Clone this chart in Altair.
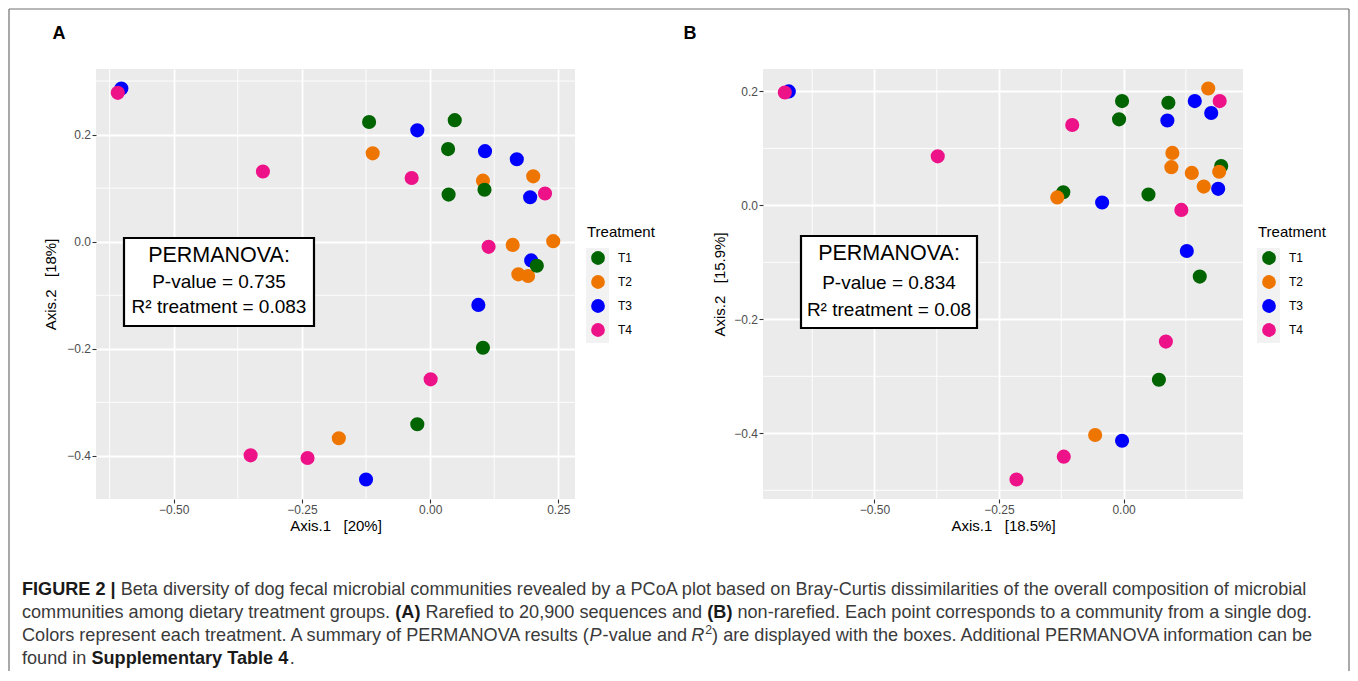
import altair as alt
import pandas as pd

FONT = "Liberation Sans"
TREATMENTS = ["T1", "T2", "T3", "T4"]
COLORS = ["#006400", "#EE7600", "#0000FF", "#EE1289"]

# ---------------- Panel A (rarefied) ----------------
A_T1_X = [-0.119, 0.048, 0.035, 0.106, 0.036, 0.208, 0.103, -0.025]
A_T1_Y = [0.2235, 0.227, 0.173, 0.097, 0.088, -0.045, -0.198, -0.341]
A_T2_X = [-0.112, 0.201, 0.103, 0.240, 0.161, 0.172, 0.191, -0.178]
A_T2_Y = [0.165, 0.122, 0.114, 0.001, -0.006, -0.061, -0.064, -0.367]
A_T3_X = [-0.602, -0.025, 0.107, 0.169, 0.195, 0.197, 0.094, -0.125]
A_T3_Y = [0.286, 0.208, 0.169, 0.154, 0.083, -0.035, -0.118, -0.444]
A_T4_X = [-0.609, -0.326, -0.036, 0.224, 0.114, 0.001, -0.350, -0.239]
A_T4_Y = [0.278, 0.131, 0.119, 0.090, -0.0096, -0.257, -0.399, -0.404]

# ---------------- Panel B (non-rarefied) ----------------
B_T1_X = [-0.003, 0.090, -0.009, 0.196, -0.121, 0.050, 0.153, 0.071]
B_T1_Y = [0.183, 0.180, 0.151, 0.069, 0.023, 0.019, -0.125, -0.306]
B_T2_X = [0.170, 0.098, 0.096, 0.192, 0.137, 0.161, -0.133, -0.057]
B_T2_Y = [0.205, 0.092, 0.067, 0.059, 0.057, 0.033, 0.014, -0.403]
B_T3_X = [-0.672, 0.143, 0.176, 0.088, 0.190, -0.043, 0.127, -0.003]
B_T3_Y = [0.200, 0.183, 0.162, 0.149, 0.029, 0.005, -0.080, -0.413]
B_T4_X = [-0.680, 0.193, -0.103, -0.373, 0.116, 0.085, -0.120, -0.215]
B_T4_Y = [0.198, 0.183, 0.141, 0.086, -0.008, -0.239, -0.441, -0.481]

A_X_TICKS = [-0.50, -0.25, 0.00, 0.25]
A_Y_TICKS = [-0.4, -0.2, 0.0, 0.2]
A_X_MINOR = [-0.625, -0.375, -0.125, 0.125]
A_Y_MINOR = [-0.3, -0.1, 0.1, 0.3]
B_X_TICKS = [-0.50, -0.25, 0.00]
B_Y_TICKS = [-0.4, -0.2, 0.0, 0.2]
B_X_MINOR = [-0.625, -0.375, -0.125, 0.125]
B_Y_MINOR = [-0.5, -0.3, -0.1, 0.1]

A_BOX_LINES = ["PERMANOVA:", "P-value = 0.735", "R\u00b2 treatment = 0.083"]
B_BOX_LINES = ["PERMANOVA:", "P-value = 0.834", "R\u00b2  treatment = 0.08"]

NB = "\u00a0"
A_X_TITLE = "Axis.1" + NB * 3 + "[20%]"
A_Y_TITLE = "Axis.2" + NB * 3 + "[18%]"
B_X_TITLE = "Axis.1" + NB * 3 + "[18.5%]"
B_Y_TITLE = "Axis.2" + NB * 3 + "[15.9%]"

CAPTION = [
    [("FIGURE 2 |", "b"),
     (" Beta diversity of dog fecal microbial communities revealed by a PCoA plot based on "
      "Bray-Curtis dissimilarities of the overall composition of microbial", "n")],
    [("communities among dietary treatment groups. ", "n"), ("(A)", "b"),
     (" Rarefied to 20,900 sequences and ", "n"), ("(B)", "b"),
     (" non-rarefied. Each point corresponds to a community from a single dog.", "n")],
    [("Colors represent each treatment. A summary of PERMANOVA results (", "n"), ("P", "i"),
     ("-value and ", "n"), ("R", "i"), ("2", "s"),
     (") are displayed with the boxes. Additional PERMANOVA information can be", "n")],
    [("found in ", "n"), ("Supplementary Table 4", "b"), (".", "n")],
]
# the browser kerns long runs (e.g. "AV", "VA"), so later runs on a line start a little earlier
KERN_SHIFT = [0.0, 0.0, -3.0, 0.0]

# Arial / Liberation Sans advance widths (1/1000 em), chars 32..126
REG_W = [278, 278, 355, 556, 556, 889, 667, 191, 333, 333, 389, 584, 278, 333, 278, 278,
         556, 556, 556, 556, 556, 556, 556, 556, 556, 556,
         278, 278, 584, 584, 584, 556, 1015,
         667, 667, 722, 722, 667, 611, 778, 722, 278, 500, 667, 556, 833, 722, 778, 667, 778,
         722, 667, 611, 722, 667, 944, 667, 667, 611,
         278, 278, 278, 469, 556, 333,
         556, 556, 500, 556, 556, 278, 556, 556, 222, 222, 500, 222, 833, 556, 556, 556, 556,
         333, 500, 278, 556, 500, 722, 500, 500, 500,
         334, 260, 334, 584]
BOLD_W = [278, 333, 474, 556, 556, 889, 722, 238, 333, 333, 389, 584, 278, 333, 278, 278,
          556, 556, 556, 556, 556, 556, 556, 556, 556, 556,
          333, 333, 584, 584, 584, 611, 975,
          722, 722, 722, 722, 667, 611, 778, 722, 278, 556, 722, 611, 833, 722, 778, 667, 778,
          722, 667, 611, 722, 667, 944, 667, 667, 611,
          333, 278, 333, 584, 556, 333,
          556, 611, 556, 611, 556, 333, 611, 611, 278, 278, 556, 278, 889, 611, 611, 611, 611,
          389, 556, 333, 611, 556, 778, 556, 556, 500,
          389, 280, 389, 584]
REG = {chr(32 + i): w for i, w in enumerate(REG_W)}
BOLD = {chr(32 + i): w for i, w in enumerate(BOLD_W)}


def em_width(s, style):
    table = BOLD if style == "b" else REG
    return sum(table.get(c, 556) for c in s) / 1000.0


def expand(vals, frac=0.05):
    lo, hi = min(vals), max(vals)
    pad = (hi - lo) * frac
    return [lo - pad, hi + pad]


def one():
    return pd.DataFrame({"a": [0]})


def build_panel(xs, ys, order, x_ticks, y_ticks, x_minor, y_minor, x_title, y_title,
                letter, letter_x, box, box_cx, box_base, box_lines, legend_x, key_bg,
                width, height, y_title_pad):
    rows = []
    for t in order:
        i = TREATMENTS.index(t)
        for xv, yv in zip(xs[i], ys[i]):
            rows.append({"x": xv, "y": yv, "Treatment": t})
    df = pd.DataFrame(rows)
    xdom = expand([v for l in xs for v in l])
    ydom = expand([v for l in ys for v in l])
    xscale = alt.Scale(domain=xdom, nice=False, zero=False)
    yscale = alt.Scale(domain=ydom, nice=False, zero=False)
    common = dict(grid=True, gridColor="white", gridWidth=1.8, domain=False,
                  tickColor="#333333", tickSize=4, tickWidth=1.1,
                  labelColor="#4D4D4D", labelFontSize=12, labelFont=FONT,
                  titleFont=FONT, titleFontSize=15, titleFontWeight="normal",
                  titleColor="black")
    xaxis = alt.Axis(title=x_title, values=x_ticks, format=".2f", labelPadding=1.5,
                     titlePadding=3, **common)
    yaxis = alt.Axis(title=y_title, values=y_ticks, format=".1f", labelPadding=1.5,
                     titlePadding=y_title_pad, **common)

    minor_x = alt.Chart(pd.DataFrame({"x": x_minor})).mark_rule(
        color="white", strokeWidth=0.9).encode(x=alt.X("x:Q", scale=xscale, axis=xaxis))
    minor_y = alt.Chart(pd.DataFrame({"y": y_minor})).mark_rule(
        color="white", strokeWidth=0.9).encode(y=alt.Y("y:Q", scale=yscale, axis=yaxis))

    legend = alt.Legend(orient="none", legendX=legend_x, legendY=156, title="Treatment",
                        titleFont=FONT, titleFontSize=15, titleFontWeight="normal",
                        titleColor="black", titlePadding=11, labelFont=FONT,
                        labelFontSize=12, labelColor="black", labelOffset=13,
                        symbolType="circle", symbolSize=190, symbolStrokeWidth=0,
                        symbolOffset=4, rowPadding=10, padding=0)
    pts = alt.Chart(df).mark_circle(size=200, opacity=1).encode(
        x=alt.X("x:Q", scale=xscale, axis=xaxis),
        y=alt.Y("y:Q", scale=yscale, axis=yaxis),
        color=alt.Color("Treatment:N", scale=alt.Scale(domain=TREATMENTS, range=COLORS),
                        legend=legend),
    )

    key_rect = alt.Chart(one()).mark_rect(fill="#F2F2F2").encode(
        x=alt.value(key_bg[0]), x2=alt.value(key_bg[1]),
        y=alt.value(key_bg[2]), y2=alt.value(key_bg[3]))

    box_rect = alt.Chart(one()).mark_rect(fill="white", stroke="black", strokeWidth=2.2).encode(
        x=alt.value(box[0]), x2=alt.value(box[1]), y=alt.value(box[2]), y2=alt.value(box[3]))
    sizes = [21.5, 19, 19]
    box_texts = [
        alt.Chart(one()).mark_text(text=line, font=FONT, fontSize=fs, align="center",
                                   baseline="alphabetic", color="black").encode(
            x=alt.value(box_cx), y=alt.value(by))
        for line, fs, by in zip(box_lines, sizes, box_base)
    ]
    letter_mark = alt.Chart(one()).mark_text(
        text=letter, font=FONT, fontSize=18, fontWeight="bold", align="center",
        baseline="middle", color="black").encode(x=alt.value(letter_x), y=alt.value(-35))

    return alt.layer(minor_x, minor_y, key_rect, pts, box_rect, *box_texts, letter_mark).properties(
        width=width, height=height,
        view=alt.ViewBackground(fill="#EBEBEB", strokeWidth=0))


panel_a = build_panel(
    [A_T1_X, A_T2_X, A_T3_X, A_T4_X], [A_T1_Y, A_T2_Y, A_T3_Y, A_T4_Y],
    ["T2", "T3", "T4", "T1"], A_X_TICKS, A_Y_TICKS, A_X_MINOR, A_Y_MINOR,
    A_X_TITLE, A_Y_TITLE, "A", -37, (28, 218, 169, 257), 123, (193, 219, 244), A_BOX_LINES,
    491, (490, 513, 179, 274), 479, 430, 8)

panel_b = build_panel(
    [B_T1_X, B_T2_X, B_T3_X, B_T4_X], [B_T1_Y, B_T2_Y, B_T3_Y, B_T4_Y],
    ["T1", "T2", "T3", "T4"], B_X_TICKS, B_Y_TICKS, B_X_MINOR, B_Y_MINOR,
    B_X_TITLE, B_Y_TITLE, "B", -73, (38, 214, 167, 259), 126, (191, 220, 247), B_BOX_LINES,
    495, (494, 517, 179, 274), 480, 430, 6)

# ---------------- Caption ----------------
CAP_X0 = -74.0
CAP_BASES = [46, 69, 92, 115]
line1_em = sum(em_width(s, st) for s, st in CAPTION[0])
CAP_FS = 1286.0 / line1_em

seg_rows = {"n": [], "b": [], "i": [], "s": []}
for line, base, kern in zip(CAPTION, CAP_BASES, KERN_SHIFT):
    cursor = CAP_X0
    for k, (seg, st) in enumerate(line):
        fs = CAP_FS * (0.68 if st == "s" else 1.0)
        lead = len(seg) - len(seg.lstrip(" "))
        start = cursor + em_width(" " * lead, st) * fs + (kern if k > 0 else 0.0)
        if st == "i":
            start -= 1.0
        seg_rows[st].append({"t": seg.strip(" "), "px": start,
                             "py": base - (CAP_FS * 0.38 if st == "s" else 0)})
        cursor += em_width(seg, st) * fs

cap_layers = []
styles = {
    "n": dict(fontSize=CAP_FS, color="#3a3a3a"),
    "b": dict(fontSize=CAP_FS, color="#1a1a1a", fontWeight="bold"),
    "i": dict(fontSize=CAP_FS, color="#3a3a3a", fontStyle="italic"),
    "s": dict(fontSize=CAP_FS * 0.68, color="#3a3a3a"),
}
for st, rows in seg_rows.items():
    cap_layers.append(
        alt.Chart(pd.DataFrame(rows)).mark_text(font=FONT, align="left", baseline="alphabetic",
                                                **styles[st]).encode(
            x=alt.X("px:Q", scale=None), y=alt.Y("py:Q", scale=None), text="t:N"))

FRAME = "#707070"
frame_left = alt.Chart(one()).mark_rule(color=FRAME, strokeWidth=1.2).encode(
    x=alt.value(-87), y=alt.value(-540), y2=alt.value(122))
frame_top = alt.Chart(one()).mark_rule(color=FRAME, strokeWidth=1.2).encode(
    x=alt.value(-87), x2=alt.value(1253), y=alt.value(-540))
frame_right = alt.Chart(one()).mark_rule(color=FRAME, strokeWidth=1.2).encode(
    x=alt.value(1253), y=alt.value(-540), y2=alt.value(122))

caption = alt.layer(*cap_layers, frame_left, frame_top, frame_right).properties(
    width=1200, height=110)

row = alt.hconcat(panel_a, panel_b, spacing=188, bounds="flush").resolve_scale(
    x="independent", y="independent", color="independent").resolve_legend(color="independent")

# the nested hconcat counts as zero height under flush bounds, so the spacing
# carries the panel height (430) plus the gap (50)
chart = alt.vconcat(row, caption, spacing=480, bounds="flush").properties(
    padding=0).configure(font=FONT).configure_view(strokeWidth=0)

chart.save("out.html", embed_options={"renderer": "svg", "actions": False})
